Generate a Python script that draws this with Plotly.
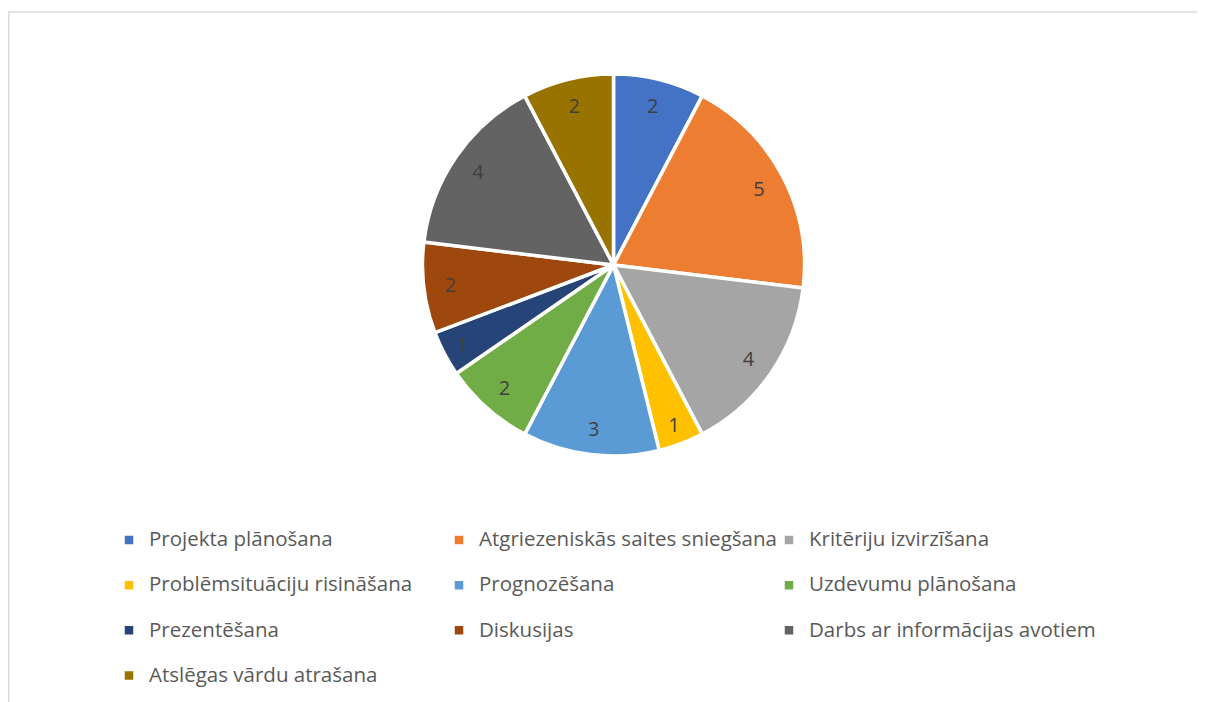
import plotly.graph_objects as go

labels = [
    "Projekta plānošana",
    "Atgriezeniskās saites sniegšana",
    "Kritēriju izvirzīšana",
    "Problēmsituāciju risināšana",
    "Prognozēšana",
    "Uzdevumu plānošana",
    "Prezentēšana",
    "Diskusijas",
    "Darbs ar informācijas avotiem",
    "Atslēgas vārdu atrašana",
]
values = [2, 5, 4, 1, 3, 2, 1, 2, 4, 2]
colors = ["#4472C4", "#ED7D31", "#A5A5A5", "#FFC000", "#5B9BD5",
          "#70AD47", "#264478", "#9E480E", "#636363", "#997300"]

W, H = 1205, 702
cx, cy, r = 605.5, 257, 191
FONT = "Open Sans"

legend_labels = ["<span style='font-size:20.5px'>" + l + "</span><br>\u00a0" for l in labels]
domain = dict(x=[(cx - r) / W, (cx + r) / W], y=[1 - (cy + r) / H, 1 - (cy - r) / H])

fig = go.Figure()
# coloured slices
fig.add_trace(go.Pie(
    labels=legend_labels,
    values=values,
    textinfo="none",
    sort=False,
    direction="clockwise",
    rotation=0,
    marker=dict(colors=colors, line=dict(color="white", width=3.5)),
    domain=domain,
    hovertemplate="%{value}<extra></extra>",
))
# value labels placed toward the outer edge (ring of a transparent donut)
fig.add_trace(go.Pie(
    labels=legend_labels,
    values=values,
    text=[str(v) for v in values],
    textinfo="text",
    sort=False,
    direction="clockwise",
    rotation=0,
    hole=0.72,
    showlegend=False,
    marker=dict(colors=["rgba(0,0,0,0)"] * len(values), line=dict(width=0)),
    textposition="inside",
    insidetextorientation="horizontal",
    insidetextfont=dict(color="#404040", size=20, family=FONT),
    domain=domain,
    hoverinfo="skip",
))

fig.update_layout(
    width=W, height=H,
    margin=dict(l=0, r=0, t=0, b=0, autoexpand=False),
    paper_bgcolor="white",
    showlegend=True,
    legend=dict(
        orientation="h",
        x=101 / W, xanchor="left",
        y=1 - 515 / H, yanchor="top",
        entrywidth=285, entrywidthmode="pixels",
        font=dict(family=FONT, size=16.2, color="#595959"),
        valign="top",
        traceorder="normal",
    ),
    shapes=[dict(type="rect", xref="paper", yref="paper",
                 x0=0.8 / W, x1=1.02, y0=-0.02, y1=1 - 4 / H,
                 line=dict(color="#D9D9D9", width=1.5))],
)

fig.write_html("out.html")
